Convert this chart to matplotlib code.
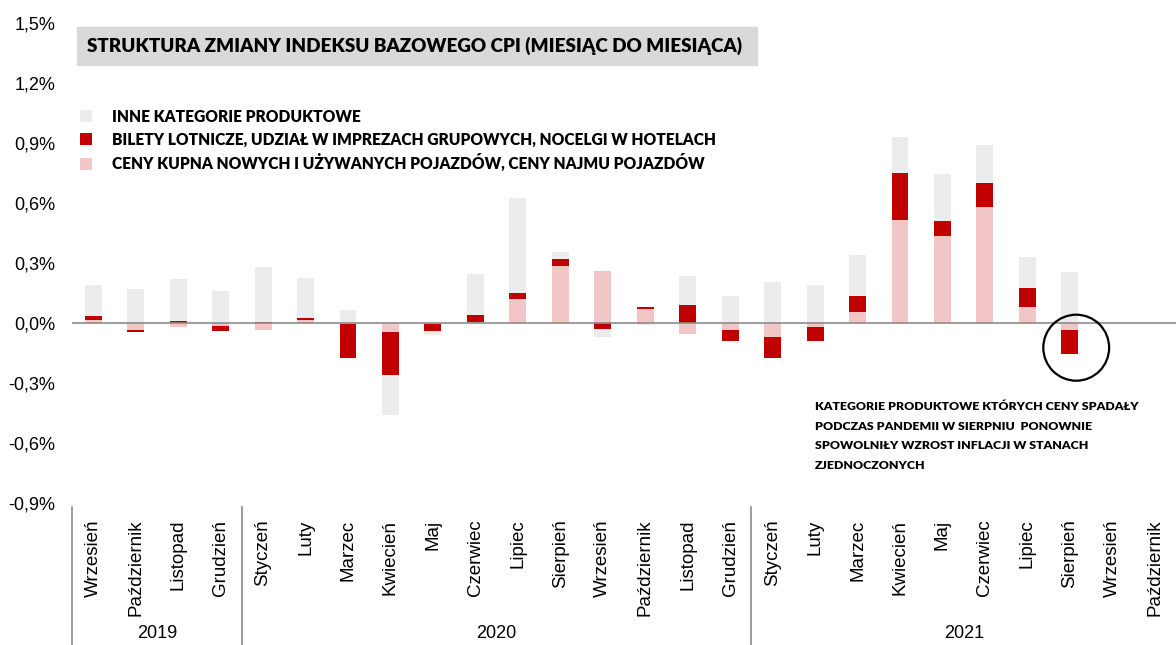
import numpy as np
import matplotlib
matplotlib.use("Agg")
import matplotlib.pyplot as plt
from matplotlib.patches import Ellipse, Rectangle
from matplotlib.ticker import FuncFormatter

months = ['Wrzesień', 'Październik', 'Listopad', 'Grudzień',
          'Styczeń', 'Luty', 'Marzec', 'Kwiecień', 'Maj', 'Czerwiec',
          'Lipiec', 'Sierpień', 'Wrzesień', 'Październik', 'Listopad', 'Grudzień',
          'Styczeń', 'Luty', 'Marzec', 'Kwiecień', 'Maj', 'Czerwiec',
          'Lipiec', 'Sierpień', 'Wrzesień', 'Październik']
years = ['2019', '2020', '2021']
year_counts = [4, 12, 10]

# udzial w zmianie m/m, pkt proc.
pojazdy = [0.017, -0.035, -0.020, -0.013, -0.037, 0.013, -0.007, -0.045, -0.004, 0.003,
           0.120, 0.287, 0.258, 0.072, -0.055, -0.035, -0.068, -0.022, 0.053, 0.517,
           0.437, 0.578, 0.078, -0.037, np.nan, np.nan]
lotnicze = [0.018, -0.012, 0.008, -0.025, 0.005, 0.014, -0.170, -0.217, -0.036, 0.035,
            0.028, 0.035, -0.028, 0.010, 0.088, -0.055, -0.105, -0.070, 0.084, 0.233,
            0.071, 0.122, 0.097, -0.120, np.nan, np.nan]
inne = [0.155, 0.170, 0.210, 0.160, 0.275, 0.196, 0.067, -0.196, -0.018, 0.207,
        0.477, 0.035, -0.042, -0.008, 0.145, 0.133, 0.203, 0.190, 0.205, 0.178,
        0.239, 0.188, 0.157, 0.257, np.nan, np.nan]

lbl_inne = 'INNE KATEGORIE PRODUKTOWE'
lbl_lot = 'BILETY LOTNICZE, UDZIAŁ W IMPREZACH GRUPOWYCH, NOCELGI W HOTELACH'
lbl_poj = 'CENY KUPNA NOWYCH I UŻYWANYCH POJAZDÓW, CENY NAJMU POJAZDÓW'
title = 'STRUKTURA ZMIANY INDEKSU BAZOWEGO CPI (MIESIĄC DO MIESIĄCA)'
note = ('KATEGORIE PRODUKTOWE KTÓRYCH CENY SPADAŁY\n'
        'PODCZAS PANDEMII W SIERPNIU  PONOWNIE\n'
        'SPOWOLNIŁY WZROST INFLACJI W STANACH\n'
        'ZJEDNOCZONYCH')

GREY = '#ececec'
RED = '#c00000'
PINK = '#f2c6c6'

plt.rcParams['font.family'] = ['Liberation Sans', 'DejaVu Sans']
BOLD = ['Lato', 'DejaVu Sans']


def pct(v, p):
    s = f'{v:.1f}'
    if s == '-0.0':
        s = '0.0'
    return s.replace('.', ',') + '%'


fig = plt.figure(figsize=(11.76, 6.45), dpi=100)
ax = fig.add_axes([72 / 1176, 142 / 645, 1 - 72 / 1176, 480 / 645])

x = np.arange(len(months))
pos = np.zeros(len(x))
neg = np.zeros(len(x))
bars = {}
for name, vals, col in [('poj', pojazdy, PINK), ('lot', lotnicze, RED), ('inne', inne, GREY)]:
    v = np.array(vals, dtype=float)
    v0 = np.nan_to_num(v)
    bottom = np.where(v0 >= 0, pos, neg)
    bars[name] = ax.bar(x, v, width=0.4, bottom=bottom, color=col, zorder=2)
    pos += np.clip(v0, 0, None)
    neg += np.clip(v0, None, 0)

ax.axhline(0, color='#8c8c8c', lw=1.2, zorder=3)

ax.set_xlim(-0.5, len(months) - 0.5)
ax.set_ylim(-0.9, 1.5)
ax.set_yticks(np.arange(-0.9, 1.51, 0.3))
ax.yaxis.set_major_formatter(FuncFormatter(pct))
ax.tick_params(axis='y', length=0, labelsize=13, pad=12)
ax.set_xticks(x)
ax.set_xticklabels(months, rotation=90, fontsize=13.5)
ax.tick_params(axis='x', length=0, pad=12)
for s in ax.spines.values():
    s.set_visible(False)

# separatory lat i podpisy lat
trans = ax.get_xaxis_transform()
edges = np.concatenate([[0], np.cumsum(year_counts)]) - 0.5
for e in edges[:-1]:
    ax.plot([e, e], [-0.008, -0.30], color='#8c8c8c', lw=1.2, transform=trans, clip_on=False)
for i, yr in enumerate(years):
    ax.text((edges[i] + edges[i + 1]) / 2, -0.272, yr, transform=trans,
            ha='center', va='center', fontsize=13)

# tytul
fig.patches.append(Rectangle((77 / 1176, 1 - 65 / 645), 680 / 1176, 38 / 645,
                             transform=fig.transFigure, color='#d9d9d9', zorder=0))
fig.text(87 / 1176, 1 - 46 / 645, title, fontsize=13.6, fontweight='heavy',
         family=BOLD, va='center', ha='left')

leg = ax.legend([bars['inne'], bars['lot'], bars['poj']], [lbl_inne, lbl_lot, lbl_poj],
                loc='upper left', bbox_to_anchor=(72 / 1176, 1 - 101 / 645),
                bbox_transform=fig.transFigure, frameon=False, borderpad=0,
                handlelength=0.8, handleheight=0.8, handletextpad=1.3,
                labelspacing=0.42, prop={'family': BOLD, 'weight': 'heavy', 'size': 11.2})

# zaznaczenie sierpnia 2021
ax.add_patch(Ellipse((23.15, -0.1235), 1.55, 0.33, fill=False, ec='black', lw=1.6,
                     zorder=4, clip_on=False))
fig.text(815 / 1176, 1 - 401 / 645, note, fontsize=8.9, fontweight='heavy',
         family=BOLD, va='top', ha='left', linespacing=1.95)

fig.savefig('out.png', dpi=100)
